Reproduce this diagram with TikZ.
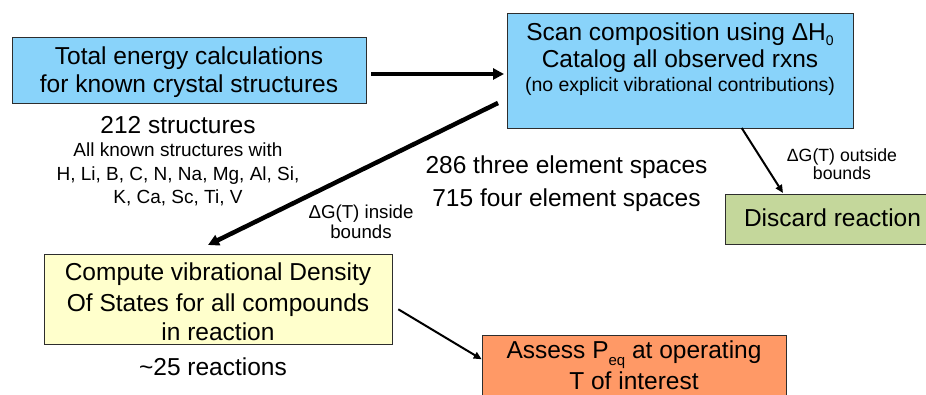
\documentclass[tikz,border=0pt]{standalone}
\usepackage{fontspec}
\setmainfont{Liberation Sans}
\usetikzlibrary{arrows.meta}
\definecolor{boxblue}{RGB}{137,211,250}
\definecolor{boxgreen}{RGB}{196,215,155}
\definecolor{boxyellow}{RGB}{255,255,204}
\definecolor{boxorange}{RGB}{255,153,102}
\definecolor{edgegray}{RGB}{45,45,45}
\newcommand{\upstrut}[1]{\rule{0pt}{#1}}
\newcommand{\downstrut}[1]{\rule[-#1]{0pt}{#1}}
\begin{document}
\begin{tikzpicture}[x=1pt,y=-1pt,
  flowbox/.style={draw=edgegray, line width=0.9pt, inner sep=0pt, outer sep=0pt, align=center, anchor=center},
  bigtext/.style={font=\fontsize{24.5}{28}\selectfont},
  notetext/.style={inner sep=0pt, outer sep=0pt, align=center},
  bigarrow/.style={line width=4.5pt, -{Triangle[length=11pt,width=11pt]}},
  smallarrow/.style={line width=2pt, -{Triangle[length=8pt,width=7pt]}}]
\useasboundingbox (0,0) rectangle (926,395);
\clip (0,0) rectangle (926,395);
\fill[white] (0,0) rectangle (926,395);

% boxes
\node[flowbox, fill=boxblue, minimum width=354pt, minimum height=66pt,
      font=\fontsize{24.5}{28}\selectfont] (total) at (189,70)
  {\upstrut{27.5pt}Total energy calculations\\for known crystal structures\downstrut{10.5pt}};

\node[flowbox, fill=boxblue, minimum width=346pt, minimum height=115pt,
      font=\fontsize{24.5}{27}\selectfont] (scan) at (680,70.5)
  {\upstrut{27.5pt}Scan composition using ΔH\raisebox{-5pt}{\fontsize{14}{14}\selectfont 0}\\
   Catalog all observed rxns\\[-2.5pt]
   {\fontsize{19.5}{20}\selectfont (no explicit vibrational contributions)}\downstrut{36pt}};

\node[flowbox, fill=boxgreen, minimum width=215pt, minimum height=50pt,
      font=\fontsize{24.5}{28}\selectfont] (discard) at (832.5,219)
  {\upstrut{32.7pt}Discard reaction\downstrut{17.3pt}};

\node[flowbox, fill=boxyellow, minimum width=348pt, minimum height=90pt,
      font=\fontsize{24.5}{30}\selectfont] (compute) at (218,299)
  {\upstrut{26.5pt}Compute vibrational Density\\[0.5pt]Of States for all compounds\\[-1pt]in reaction\downstrut{4pt}};

\node[flowbox, fill=boxorange, minimum width=304pt, minimum height=70pt,
      font=\fontsize{24.5}{31}\selectfont] (assess) at (634,370)
  {\upstrut{23pt}Assess P\raisebox{-7pt}{\fontsize{15}{15}\selectfont eq} at operating\\T of interest\downstrut{16pt}};

% free text
\node[notetext, anchor=north, font=\fontsize{19}{24}\selectfont] (structs) at (178,115.75)
  {{\fontsize{24.5}{24}\selectfont\upstrut{18pt}212 structures}\\[-1pt]
   All known structures with\\
   H, Li, B, C, N, Na, Mg, Al, Si,\\[-1pt]
   K, Ca, Sc, Ti, V};

\node[notetext, anchor=north, font=\fontsize{24.5}{33}\selectfont] (spaces) at (566.5,155.75)
  {\upstrut{18pt}286 three element spaces\\715 four element spaces};

\node[notetext, anchor=north, font=\fontsize{18.7}{20}\selectfont] (inside) at (361,204.7)
  {\upstrut{14pt}ΔG(T) inside\\bounds};

\node[notetext, anchor=north, font=\fontsize{17.7}{18}\selectfont] (outside) at (842,148.3)
  {\upstrut{13pt}ΔG(T) outside\\bounds};

\node[notetext, anchor=base, font=\fontsize{24.5}{28}\selectfont] (reactions) at (213,375.75)
  {\textasciitilde 25 reactions};

% connectors
\draw[bigarrow] ([shift={(5,4)}]total.east) -- ([shift={(-3,3.5)}]scan.west);
\draw[bigarrow] ([shift={(-9,32.5)}]scan.west) -- ([shift={(-10,-9)}]compute.north);
\draw[smallarrow] ([shift={(61.7,0)}]scan.south) -- ([shift={(-49.5,-1)}]discard.north);
\draw[smallarrow] ([shift={(6.3,10.3)}]compute.east) -- ([shift={(-0.3,-10.7)}]assess.west);
\end{tikzpicture}
\end{document}
